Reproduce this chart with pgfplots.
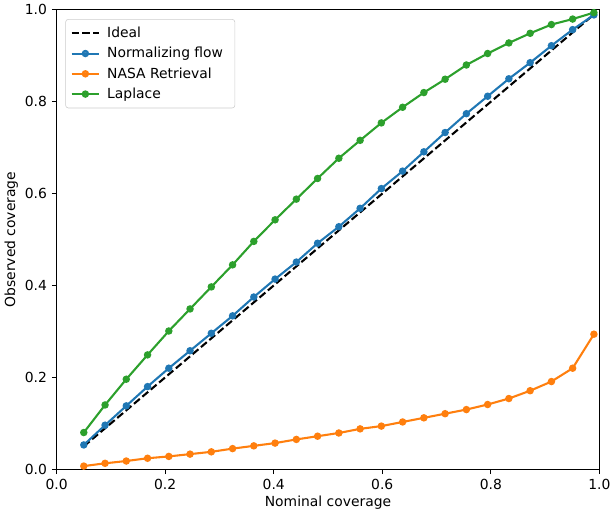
\documentclass[border=0pt]{standalone}
\usepackage{pgfplots}
\pgfplotsset{compat=1.18}
\usepackage{pgfplotstable}
\usepackage{fontspec}
\setmainfont{DejaVu Sans}

\definecolor{tabblue}{HTML}{1F77B4}
\definecolor{taborange}{HTML}{FF7F0E}
\definecolor{tabgreen}{HTML}{2CA02C}

% nominal, normalizing flow, NASA retrieval, Laplace
\pgfplotstableread{
x       nf     nasa   lap
0.0500  0.053  0.007  0.080
0.0892  0.096  0.013  0.140
0.1283  0.138  0.018  0.196
0.1675  0.180  0.024  0.249
0.2067  0.220  0.028  0.301
0.2458  0.258  0.033  0.349
0.2850  0.296  0.038  0.397
0.3242  0.334  0.045  0.445
0.3633  0.375  0.051  0.496
0.4025  0.414  0.057  0.543
0.4417  0.451  0.065  0.588
0.4808  0.492  0.072  0.633
0.5200  0.528  0.079  0.677
0.5592  0.568  0.088  0.716
0.5983  0.611  0.094  0.754
0.6375  0.649  0.103  0.788
0.6767  0.691  0.112  0.820
0.7158  0.733  0.121  0.849
0.7550  0.774  0.130  0.880
0.7942  0.812  0.141  0.905
0.8333  0.850  0.154  0.928
0.8725  0.885  0.171  0.949
0.9117  0.922  0.191  0.968
0.9508  0.957  0.220  0.980
0.9900  0.989  0.294  0.994
}\coverage

\begin{document}
\begin{tikzpicture}
\begin{axis}[
  scale only axis,
  width=391pt, height=331pt,
  xmin=0, xmax=1, ymin=0, ymax=1,
  xtick={0,0.2,...,1.0}, ytick={0,0.2,...,1.0},
  xticklabel style={/pgf/number format/.cd,fixed,fixed zerofill,precision=1},
  yticklabel style={/pgf/number format/.cd,fixed,fixed zerofill,precision=1},
  /pgf/number format/assume math mode=true,
  tick align=outside, tick pos=left,
  major tick length=3.5pt,
  every tick/.style={black, line width=0.8pt},
  axis line style={line width=0.8pt},
  tick label style={font=\fontsize{10}{12}\selectfont},
  label style={font=\fontsize{10}{12}\selectfont},
  xlabel={Nominal coverage},
  ylabel={Observed coverage},
  xlabel style={yshift=2pt},
  ylabel style={yshift=-2pt},
  legend cell align=left,
  legend style={font=\fontsize{10}{12}\selectfont, draw=black!20, rounded corners=2pt,
    fill=white, fill opacity=0.8, text opacity=1, at={(0.016,0.98)}, anchor=north west,
    row sep=1.5pt, inner sep=3.5pt,
    nodes={inner xsep=5pt}},
  legend image code/.code={
    \draw[mark repeat=2,mark phase=2,#1] plot coordinates {(0pt,0pt)(10pt,0pt)(20pt,0pt)};},
]
\addplot[black, line width=1.5pt, dash pattern=on 5.5pt off 2.4pt] coordinates {(0.05,0.05)(0.99,0.99)};
\addlegendentry{Ideal}
\addplot[tabblue, line width=1.5pt, mark=*, mark size=1.9pt] table[x=x, y=nf] {\coverage};
\addlegendentry{Normalizing flow}
\addplot[taborange, line width=1.5pt, mark=*, mark size=1.9pt] table[x=x, y=nasa] {\coverage};
\addlegendentry{NASA Retrieval}
\addplot[tabgreen, line width=1.5pt, mark=*, mark size=1.9pt] table[x=x, y=lap] {\coverage};
\addlegendentry{Laplace}
\end{axis}
\end{tikzpicture}
\end{document}
